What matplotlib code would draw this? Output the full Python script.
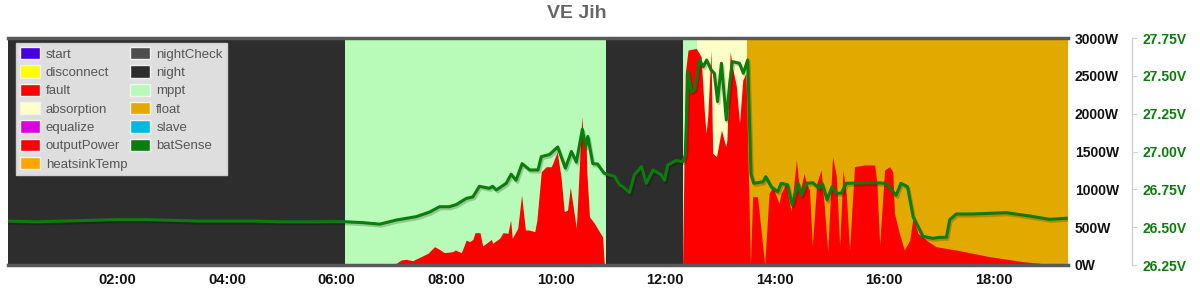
"""
VE Jih - charger state, output power and battery voltage
"""

import matplotlib
matplotlib.use("Agg")
import matplotlib.pyplot as plt
import matplotlib.patheffects as pe
from matplotlib.patches import Patch
from matplotlib.ticker import FuncFormatter, MultipleLocator

plt.rcParams["font.family"] = ["Liberation Sans", "DejaVu Sans"]

# ==========================================
# Data (time in hours of the day)
# ==========================================

state_start = [0.0, 6.15, 10.93, 12.32, 12.58, 13.49]
state_end = [6.15, 10.93, 12.32, 12.58, 13.49, 19.36]
state_name = ["night", "mppt", "night", "mppt", "absorption", "float"]

power_t = [0.0, 6.24, 6.91, 7.09, 7.18, 7.27, 7.39, 7.52, 7.67, 7.79,
           7.88, 7.97, 8.12, 8.17, 8.28, 8.37, 8.43, 8.49, 8.53, 8.62,
           8.67, 8.83, 8.85, 8.98, 9.04, 9.13, 9.18, 9.21, 9.31, 9.38,
           9.45, 9.51, 9.62, 9.66, 9.74, 9.83, 9.92, 9.95, 10.03, 10.10,
           10.16, 10.22, 10.27, 10.38, 10.48, 10.52, 10.56, 10.57, 10.62,
           10.71, 10.80, 10.86, 10.89, 12.32, 12.37, 12.42, 12.57, 12.66,
           12.72, 12.75, 12.78, 12.84, 12.87, 12.94, 13.03, 13.11, 13.13,
           13.19, 13.24, 13.30, 13.36, 13.42, 13.48, 13.56, 13.60, 13.69,
           13.82, 13.90, 13.97, 14.08, 14.12, 14.21, 14.30, 14.40, 14.46,
           14.54, 14.58, 14.64, 14.69, 14.77, 14.85, 14.91, 14.97, 15.06,
           15.13, 15.19, 15.25, 15.31, 15.37, 15.46, 15.64, 15.83, 15.87,
           15.92, 16.01, 16.10, 16.16, 16.19, 16.28, 16.37, 16.47, 16.53,
           16.62, 16.77, 16.95, 17.32, 17.93, 18.54, 19.15, 19.35]
power_w = [0, 0, 5, 22, 66, 75, 57, 102, 155, 242,
           207, 163, 176, 198, 163, 330, 308, 339, 427, 427,
           251, 339, 287, 353, 427, 419, 595, 353, 485, 925,
           463, 463, 441, 595, 1233, 1299, 1299, 1344, 1497, 1167,
           704, 727, 1027, 485, 1960, 1563, 1608, 1256, 638,
           551, 441, 374, 0, 0, 2533, 2841, 2863, 2753,
           2004, 1740, 1960, 2841, 1476, 1431, 1784, 1563, 1652,
           2819, 2577, 2379, 1872, 2445, 2533, 0, 903, 903,
           0, 947, 1035, 815, 947, 1079, 704, 1388, 947,
           1212, 1079, 991, 242, 1079, 1256, 771, 176, 1431,
           1167, 242, 1256, 947, 198, 1299, 1322, 1322, 1079,
           264, 1256, 1299, 1233, 683, 419, 198, 330, 638,
           419, 330, 242, 198, 110, 44, 0, 0]

volt_t = [0.0, 0.5, 1.0, 1.5, 2.0, 2.5, 3.0, 3.5, 4.0, 4.5, 5.0, 5.5,
          5.87, 6.15, 6.48, 6.79, 7.09, 7.46, 7.70, 7.88, 8.06, 8.19,
          8.37, 8.49, 8.61, 8.79, 8.85, 8.92, 9.10, 9.19, 9.28, 9.39,
          9.53, 9.68, 9.74, 9.89, 10.04, 10.18, 10.29, 10.38, 10.49,
          10.55, 10.59, 10.68, 10.77, 10.80, 10.89, 11.08, 11.17, 11.23,
          11.35, 11.44, 11.57, 11.66, 11.78, 11.93, 11.99, 12.05, 12.20,
          12.33, 12.37, 12.42, 12.48, 12.54, 12.63, 12.70, 12.76, 12.84,
          12.90, 12.96, 13.03, 13.12, 13.18, 13.23, 13.36, 13.43, 13.51,
          13.57, 13.62, 13.79, 13.84, 13.94, 14.06, 14.12, 14.24, 14.32,
          14.43, 14.49, 14.58, 14.70, 14.81, 14.87, 14.96, 15.05, 15.13,
          15.22, 15.31, 15.80, 16.04, 16.22, 16.31, 16.43, 16.53, 16.71,
          16.89, 17.01, 17.14, 17.20, 17.32, 17.62, 18.23, 18.66, 19.02,
          19.33]
volt_v = [26.54, 26.535, 26.54, 26.545, 26.55, 26.55, 26.545, 26.54,
          26.54, 26.54, 26.535, 26.535,
          26.536, 26.536, 26.53, 26.52, 26.547, 26.57, 26.60, 26.635,
          26.635, 26.65, 26.69, 26.70, 26.77, 26.757, 26.77, 26.746,
          26.79, 26.85, 26.81, 26.92, 26.878, 26.878, 26.966, 26.98,
          27.03, 26.89, 27.0, 26.93, 27.147, 27.03, 27.10, 26.92,
          26.917, 26.90, 26.856, 26.834, 26.78, 26.767, 26.728, 26.845,
          26.90, 26.79, 26.878, 26.845, 26.81, 26.91, 26.94,
          26.933, 26.977, 27.528, 27.395, 27.407, 27.605, 27.56, 27.605,
          27.54, 27.517, 27.33, 27.583, 27.208, 27.45, 27.594, 27.583,
          27.517, 27.605,
          26.85, 26.79, 26.80, 26.834, 26.767, 26.734, 26.79, 26.78,
          26.647, 26.79, 26.71, 26.79, 26.794, 26.757, 26.79, 26.68,
          26.767, 26.724, 26.724, 26.79, 26.794, 26.79, 26.71, 26.79,
          26.767, 26.57, 26.44, 26.426, 26.433, 26.433, 26.55, 26.587,
          26.587, 26.596, 26.574, 26.552, 26.559]

legend_labels = ["start", "disconnect", "fault", "absorption", "equalize",
                 "outputPower", "heatsinkTemp",
                 "nightCheck", "night", "mppt", "float", "slave", "batSense"]

# ==========================================
# Colours
# ==========================================

colors = {
    "start": "#4400dd",
    "disconnect": "#ffff00",
    "fault": "#ff0000",
    "absorption": "#ffffc8",
    "equalize": "#dd00dd",
    "outputPower": "#ff0000",
    "heatsinkTemp": "#ffa500",
    "nightCheck": "#4d4d4d",
    "night": "#2d2d2d",
    "mppt": "#b8fbb8",
    "float": "#e2aa00",
    "slave": "#00b8e2",
    "batSense": "#0a7d0a",
}

# ==========================================
# Figure
# ==========================================

fig = plt.figure(figsize=(12, 2.9), dpi=100)

ax = fig.add_axes([8 / 1200, 1 - 265 / 290, 1060 / 1200, 227 / 290])

for s, e, name in zip(state_start, state_end, state_name):
    ax.axvspan(s, e, color=colors[name], lw=0, zorder=0)

ax.fill_between(power_t, power_w, color=colors["outputPower"], lw=0, zorder=2)

ax.set_xlim(0, 19.36)
ax.set_ylim(0, 3000)

# ==========================================
# Battery voltage
# ==========================================

ax2 = ax.twinx()

ax2.plot(
    volt_t,
    volt_v,
    color=colors["batSense"],
    lw=2.2,
    solid_joinstyle="round",
    path_effects=[
        pe.SimpleLineShadow(offset=(1, -1.5), alpha=0.2),
        pe.Normal()
    ],
    zorder=3
)

ax2.set_ylim(26.25, 27.75)
ax2.yaxis.set_major_locator(MultipleLocator(0.25))
ax2.yaxis.set_major_formatter(FuncFormatter(lambda v, p: "%.2fV" % v))

for side in ["left", "top", "bottom"]:
    ax2.spines[side].set_visible(False)
ax2.spines["right"].set_position(("outward", 46))
ax2.spines["right"].set_color("#d0d0d0")
ax2.spines["right"].set_linewidth(1)

ax2.tick_params(axis="y", length=3.6, width=0.8, color="#d0d0d0",
                pad=4, labelsize=10, labelcolor="#0a7d0a")
for lab in ax2.get_yticklabels():
    lab.set_fontweight("bold")

# ==========================================
# Axes ticks (set after twinx, which moves them)
# ==========================================

ax.set_xticks([2, 4, 6, 8, 10, 12, 14, 16, 18])
ax.xaxis.set_major_formatter(FuncFormatter(lambda v, p: "%02d:00" % int(round(v))))
ax.tick_params(axis="x", length=0, pad=6, labelsize=10.5)

ax.yaxis.tick_right()
ax.yaxis.set_major_locator(MultipleLocator(500))
ax.yaxis.set_major_formatter(FuncFormatter(lambda v, p: "%dW" % v))
ax.tick_params(axis="y", length=0, pad=5, labelsize=10)

for lab in ax.get_xticklabels() + ax.get_yticklabels():
    lab.set_fontweight("bold")
    lab.set_color("#111111")

for side in ["left", "right"]:
    ax.spines[side].set_visible(False)
for side in ["top", "bottom"]:
    ax.spines[side].set_color("#5a5a5a")
    ax.spines[side].set_linewidth(2.5)

# ==========================================
# Legend
# ==========================================

handles = [
    Patch(facecolor=colors[name], edgecolor="#f2f2f2", lw=1, label=name)
    for name in legend_labels
]

leg = ax2.legend(
    handles=handles,
    ncol=2,
    loc="upper left",
    bbox_to_anchor=(16 / 1200, 1 - 43 / 290),
    bbox_transform=fig.transFigure,
    borderaxespad=0,
    fontsize=9.5,
    handlelength=1.5,
    handleheight=1.05,
    handletextpad=0.45,
    labelspacing=0.36,
    columnspacing=0.25,
    borderpad=0.3,
    fancybox=False,
    framealpha=1,
    facecolor="#dedede",
    edgecolor="#cfcfcf",
    labelcolor="#555555"
)
leg.set_zorder(10)

# ==========================================
# Title
# ==========================================

fig.text(
    577 / 1200,
    1 - 14 / 290,
    "VE Jih",
    ha="center",
    va="center",
    fontsize=14,
    fontweight="bold",
    color="#666666"
)

fig.savefig("out.png", dpi=100)
